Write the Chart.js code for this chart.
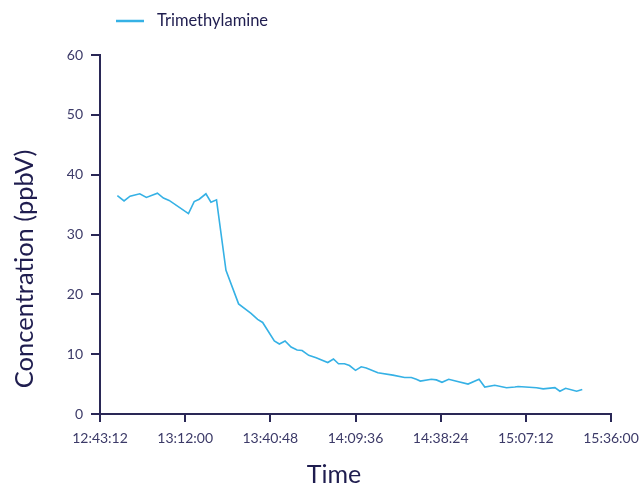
<!DOCTYPE html>
<html>
<head>
<meta charset="utf-8">
<script src="https://cdn.jsdelivr.net/npm/chart.js@4"></script>
<style>
  body{margin:0;background:#fff;}
  #wrap{width:642px;height:487px;}
</style>
</head>
<body>
<div id="wrap"><canvas id="chart"></canvas></div>
<script>
// data
const seriesName = "Trimethylamine";
const times = ["12:49:04","12:51:20","12:53:22","12:56:39","12:58:53","13:02:37","13:04:39","13:06:35",
  "13:13:07","13:15:03","13:16:45","13:19:01","13:20:43","13:22:36","13:25:48","13:30:04",
  "13:34:16","13:36:30","13:38:12","13:42:09","13:43:51","13:45:47","13:47:49","13:49:51",
  "13:51:33","13:53:47","13:56:17","14:00:13","14:02:09","14:03:51","14:05:53","14:07:34",
  "14:09:36","14:11:32","14:13:14","14:17:10","14:22:14","14:26:12","14:28:29","14:30:10",
  "14:31:31","14:35:15","14:36:57","14:38:51","14:41:07","14:47:39","14:51:23","14:53:19",
  "14:56:42","15:00:40","15:03:29","15:04:36","15:10:50","15:13:04","15:17:02","15:18:43",
  "15:20:39","15:24:23","15:26:17"];
const values = [36.5,35.6,36.4,36.8,36.2,36.9,36.1,35.7,
  33.5,35.5,35.9,36.8,35.4,35.8,24.0,18.4,
  16.8,15.8,15.3,12.2,11.7,12.2,11.2,10.7,
  10.6,9.8,9.4,8.6,9.2,8.4,8.4,8.1,
  7.3,7.9,7.7,6.9,6.5,6.1,6.1,5.8,
  5.5,5.8,5.7,5.3,5.8,5.0,5.8,4.5,
  4.8,4.4,4.5,4.6,4.4,4.2,4.4,3.8,
  4.3,3.8,4.1];
const xTickLabels = ["12:43:12","13:12:00","13:40:48","14:09:36","14:38:24","15:07:12","15:36:00"];
const yTicks = [0,10,20,30,40,50,60];

const NAVY = "#1f1d4f";
const AXIS = "#2a2856";
const TICKTXT = "#3c3a68";
const LINE = "#35b1e5";
const FONT = "Lato, 'Open Sans', sans-serif";

function toSec(s){
  const p = s.split(":").map(Number);
  return p[0]*3600 + p[1]*60 + p[2];
}
function fmt(v){
  const h = Math.floor(v/3600), m = Math.floor(v%3600/60), s = Math.round(v%60);
  return h + ":" + String(m).padStart(2,"0") + ":" + String(s).padStart(2,"0");
}

const xTickVals = xTickLabels.map(toSec);
const points = times.map((t,i)=>({x:toSec(t), y:values[i]}));

// legend + axis titles
const extras = {
  id:"extras",
  afterDraw(chart){
    const ctx = chart.ctx;
    ctx.save();
    ctx.strokeStyle = LINE;
    ctx.lineWidth = 2.5;
    ctx.beginPath();
    ctx.moveTo(116,21); ctx.lineTo(144,21);
    ctx.stroke();
    ctx.fillStyle = NAVY;
    ctx.font = "16.5px " + FONT;
    ctx.textBaseline = "middle";
    ctx.textAlign = "left";
    ctx.fillText(seriesName, 157, 21);

    ctx.font = "25px " + FONT;
    ctx.textAlign = "center";
    ctx.fillText("Time", 334, 475);
    ctx.font = "25.5px " + FONT;
    ctx.translate(25, 269);
    ctx.rotate(-Math.PI/2);
    ctx.fillText("Concentration (ppbV)", 0, 0);
    ctx.restore();
  }
};

new Chart(document.getElementById("chart"),{
  type:"line",
  data:{
    datasets:[{
      label:seriesName,
      data:points,
      borderColor:LINE,
      backgroundColor:LINE,
      borderWidth:1.6,
      pointRadius:0,
      tension:0
    }]
  },
  options:{
    responsive:true,
    maintainAspectRatio:false,
    animation:false,
    layout:{padding:{top:55,right:31,left:0,bottom:0}},
    plugins:{legend:{display:false},tooltip:{enabled:false}},
    scales:{
      x:{
        type:"linear",
        min:xTickVals[0],
        max:xTickVals[xTickVals.length-1],
        afterBuildTicks:s=>{ s.ticks = xTickVals.map(v=>({value:v})); },
        afterFit:s=>{ s.height = 73; s.paddingLeft = 0; s.paddingRight = 0; },
        grid:{drawOnChartArea:false,drawTicks:true,tickLength:8,color:AXIS,lineWidth:2},
        border:{color:AXIS,width:2},
        ticks:{color:TICKTXT,font:{family:FONT,size:14},padding:8,maxRotation:0,autoSkip:false,
          callback:v=>fmt(v)}
      },
      y:{
        min:0,max:60,
        afterBuildTicks:s=>{ s.ticks = yTicks.map(v=>({value:v})); },
        afterFit:s=>{ s.width = 100; },
        grid:{drawOnChartArea:false,drawTicks:true,tickLength:9,color:AXIS,lineWidth:2},
        border:{color:AXIS,width:2},
        ticks:{color:TICKTXT,font:{family:FONT,size:14},padding:8}
      }
    }
  },
  plugins:[extras]
});
</script>
</body>
</html>
